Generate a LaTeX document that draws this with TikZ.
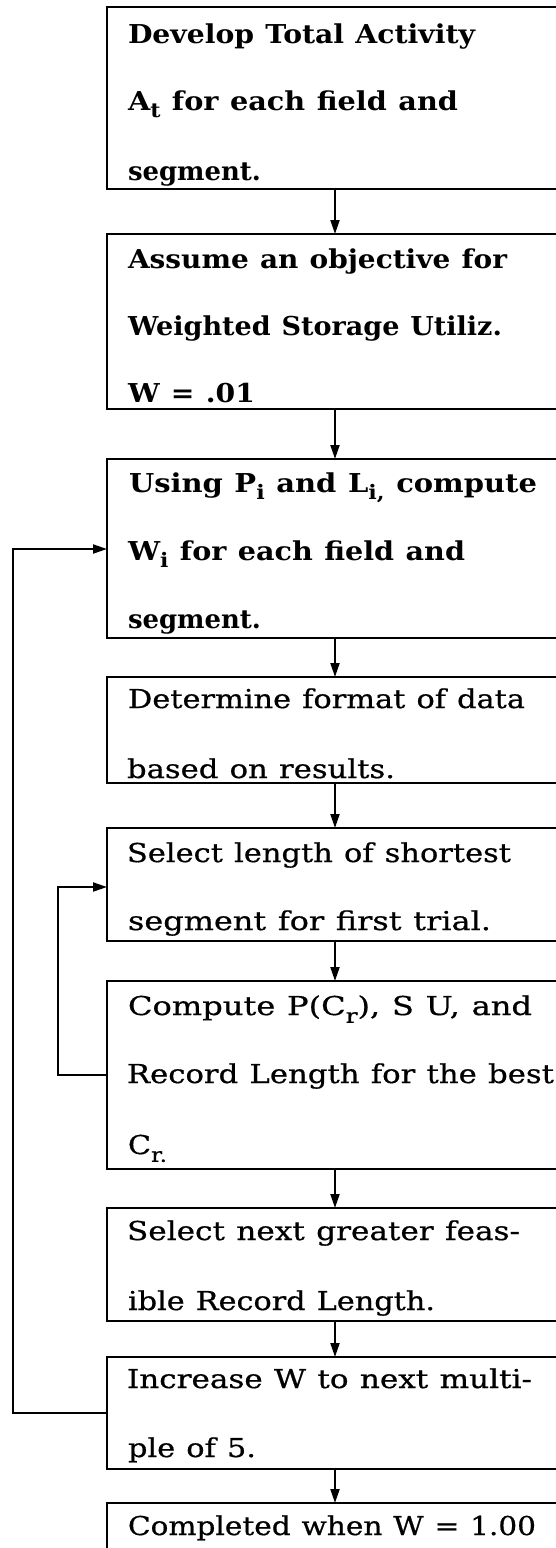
\documentclass[tikz,border=0pt]{standalone}
\usepackage{fontspec}
\setmainfont{DejaVu Serif}[WordSpace=1.15, UprightFeatures={FakeBold=0.6}]
\usepackage{graphicx}
\usetikzlibrary{arrows.meta}
\newcommand\sbx[1]{\raisebox{-0.3em}{\fontsize{20}{20}\selectfont #1}}
\newcommand\fitline[2]{\resizebox{#1pt}{\height}{#2}}
\tikzset{
  box/.style={draw, line width=2.2pt, rectangle, minimum width=480pt, anchor=north west, inner sep=0pt, outer sep=0pt},
  txt/.style={anchor=base west, inner sep=0pt, outer sep=0pt, font=\fontsize{26}{26}\selectfont},
  btxt/.style={txt, font=\fontsize{26}{26}\selectfont\bfseries},
  arr/.style={line width=2pt, -{Triangle[length=14pt,width=9pt]}},
}
\begin{document}
\begin{tikzpicture}[x=1pt,y=-1pt]
\useasboundingbox (0,0) rectangle (556,1548);
\clip (0,0) rectangle (556,1548);
\fill[white] (0,0) rectangle (556,1548);
% boxes
\node[box, minimum height=182pt] (b1) at (107,7) {};
\node[box, minimum height=175pt] (b2) at (107,234) {};
\node[box, minimum height=179pt] (b3) at (107,459) {};
\node[box, minimum height=106pt] (b4) at (107,677) {};
\node[box, minimum height=113pt] (b5) at (107,828) {};
\node[box, minimum height=188pt] (b6) at (107,981) {};
\node[box, minimum height=113pt] (b7) at (107,1208) {};
\node[box, minimum height=112pt] (b8) at (107,1357) {};
\node[box, minimum height=100pt] (b9) at (107,1503) {};
% texts
\node[btxt] (t1a) at (128,43)  {\fitline{347}{Develop Total Activity}};
\node[btxt] (t1b) at (128,110) {\fitline{330}{A\sbx{t} for each field and}};
\node[btxt] (t1c) at (128,180) {\fitline{133}{segment.}};
\node[btxt] (t2a) at (128,268) {\fitline{379}{Assume an objective for}};
\node[btxt] (t2b) at (128,335) {\fitline{374}{Weighted Storage Utiliz.}};
\node[btxt] (t2c) at (128,402) {\fitline{127}{W = .01}};
\node[btxt] (t3a) at (129,492) {\fitline{408}{Using P\sbx{i} and L\sbx{i,} compute}};
\node[btxt] (t3b) at (128,560) {\fitline{337}{W\sbx{i} for each field and}};
\node[btxt] (t3c) at (128,628) {\fitline{133}{segment.}};
\node[txt] (t4a) at (128,708) {\fitline{397}{Determine format of data}};
\node[txt] (t4b) at (127,778) {\fitline{268}{based on results.}};
\node[txt] (t5a) at (127,862) {\fitline{384}{Select length of shortest}};
\node[txt] (t5b) at (128,930) {\fitline{363}{segment for first trial.}};
\node[txt] (t6a) at (128,1015) {\fitline{404}{Compute P(C\sbx{r}), S U, and}};
\node[txt] (t6b) at (127,1083) {\fitline{427}{Record Length for the best}};
\node[txt] (t6c) at (128,1154) {\fitline{39}{C\sbx{r.}}};
\node[txt] (t7a) at (127,1240) {\fitline{393}{Select next greater feas-}};
\node[txt] (t7b) at (128,1310) {\fitline{307}{ible Record Length.}};
\node[txt] (t8a) at (127,1388) {\fitline{405}{Increase W to next multi-}};
\node[txt] (t8b) at (128,1457) {\fitline{128}{ple of 5.}};
\node[txt] (t9a) at (128,1535) {\fitline{408}{Completed when W = 1.00}};
% connectors
\coordinate (ax) at (335,0);
\draw[arr] (b1.south -| ax) -- (b2.north -| ax);
\draw[arr] (b2.south -| ax) -- (b3.north -| ax);
\draw[arr] (b3.south -| ax) -- (b4.north -| ax);
\draw[arr] (b4.south -| ax) -- (b5.north -| ax);
\draw[arr] (b5.south -| ax) -- (b6.north -| ax);
\draw[arr] (b6.south -| ax) -- (b7.north -| ax);
\draw[arr] (b7.south -| ax) -- (b8.north -| ax);
\draw[arr] (b8.south -| ax) -- (b9.north -| ax);
\coordinate (l1a) at (13,1413);
\coordinate (l1b) at (13,549);
\draw[arr] (b8.west |- l1a) -- (l1a) -- (l1b) -- (b3.west |- l1b);
\coordinate (l2a) at (58,1075);
\coordinate (l2b) at (58,887);
\draw[arr] (b6.west |- l2a) -- (l2a) -- (l2b) -- (b5.west |- l2b);
\end{tikzpicture}
\end{document}
